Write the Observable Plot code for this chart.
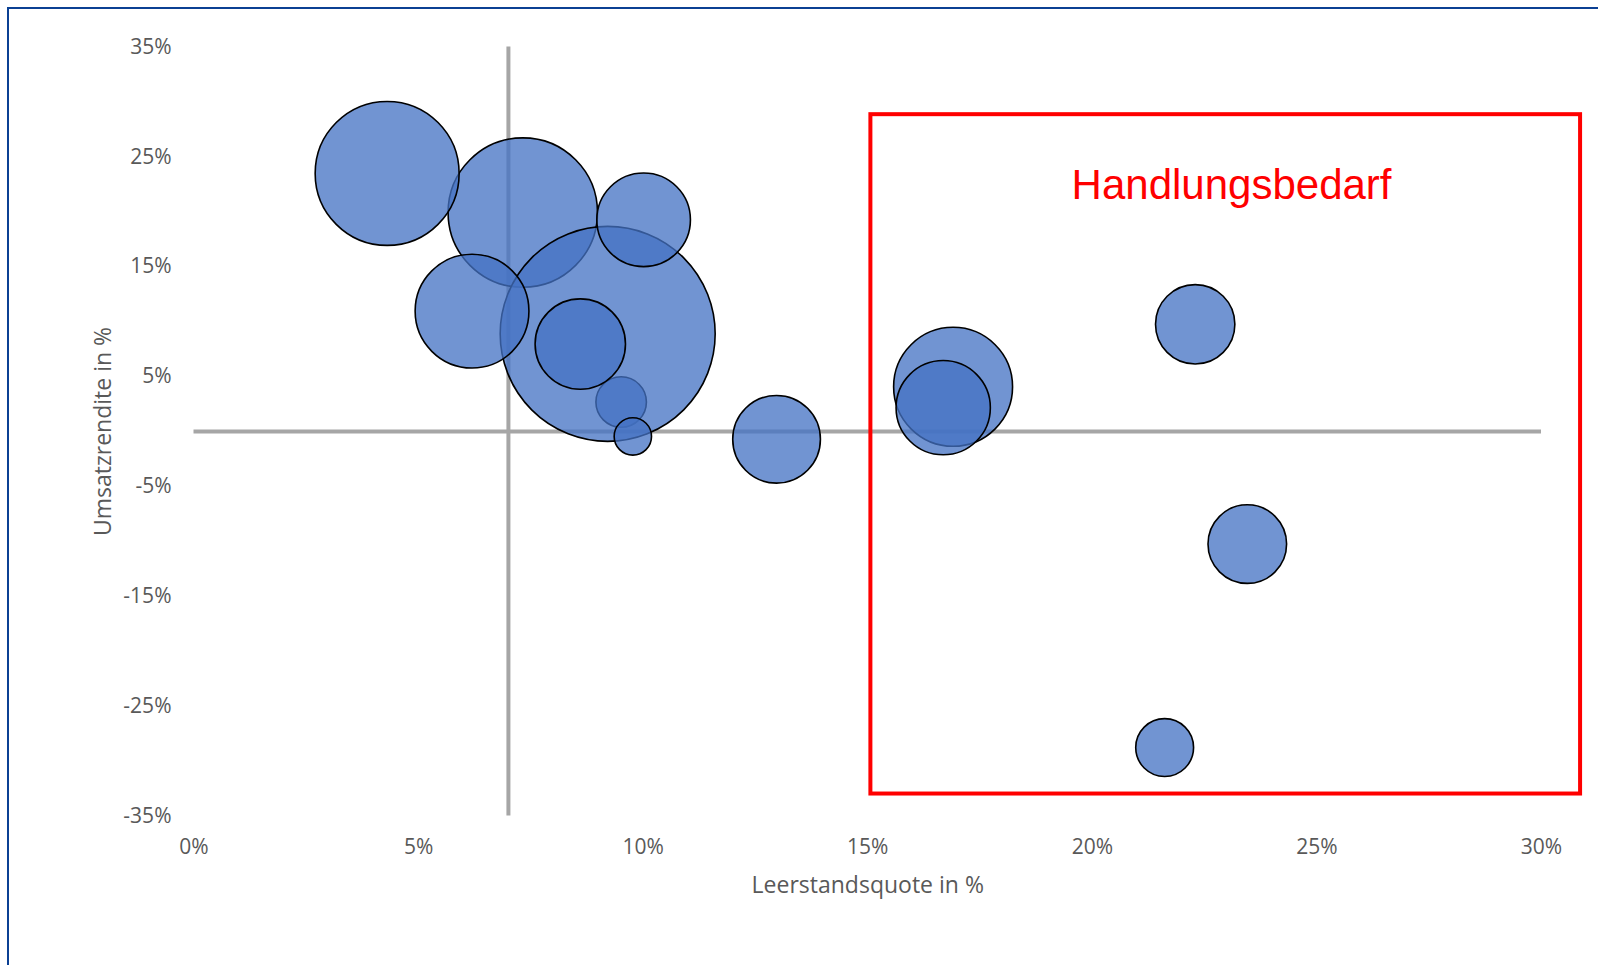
<!DOCTYPE html>
<html>
<head>
<meta charset="utf-8">
<script src="https://cdn.jsdelivr.net/npm/d3@7"></script>
<script src="https://cdn.jsdelivr.net/npm/@observablehq/plot@0.6"></script>
<style>
  html, body { margin: 0; padding: 0; background: #fff; }
  #wrap { position: relative; width: 1598px; height: 965px; overflow: hidden; }
  #frame { position: absolute; left: 7px; top: 7px; width: 1700px; height: 1100px;
           border-left: 2px solid #0b4093; border-top: 2px solid #0b4093; pointer-events: none; }
</style>
</head>
<body>
<div id="wrap"><div id="frame"></div></div>
<script>
// Bubbles in drawing order (later ones are painted on top)
const leerstand   = [7.32, 9.51, 9.21, 4.30, 10.01, 6.19, 8.60, 9.77, 12.97, 16.90, 16.68, 22.29, 23.45, 21.61];
const rendite     = [19.93, 2.68, 8.89, 23.49, 19.27, 10.96, 7.96, -0.45, -0.71, 4.07, 2.17, 9.76, -10.25, -28.77];
const groesse     = [56.0, 6.4, 116.0, 52.0, 22.0, 32.5, 20.5, 3.5, 19.3, 35.5, 22.3, 15.8, 15.5, 8.4];

const xTicks = [0, 5, 10, 15, 20, 25, 30];
const yTicks = [-35, -25, -15, -5, 5, 15, 25, 35];

// reference cross lines (Leerstand 7 %, Rendite 0 %)
const crossX = 7;
const crossY = 0;

// highlighted zone
const zone = [{x1: 15.07, x2: 30.87, y1: -33.0, y2: 28.84}];
const zoneLabel = [{x: 23.1, y: 21.2, text: "Handlungsbedarf"}];

const bubbles = leerstand.map((x, i) => ({x, y: rendite[i], s: groesse[i]}));

const chart = Plot.plot({
  width: 1598,
  height: 965,
  marginLeft: 193.5,
  marginRight: 57,
  marginTop: 46.5,
  marginBottom: 149.5,
  style: {fontFamily: "'Open Sans', sans-serif", fontSize: "21px", color: "#595959", background: "transparent"},
  x: {domain: [0, 30]},
  y: {domain: [-35, 35]},
  r: {type: "sqrt", domain: [0, 116], range: [0, 107.5]},
  marks: [
    Plot.axisX({ticks: xTicks, tickSize: 0, tickPadding: 23.5, tickFormat: d => d + "%", label: null, fontSize: 21}),
    Plot.axisY({ticks: yTicks, tickSize: 0, tickPadding: 22.5, tickFormat: d => d + "%", label: null, fontSize: 21}),
    Plot.ruleY([crossY], {x1: 0, x2: 30, stroke: "#a6a6a6", strokeWidth: 4}),
    Plot.ruleX([crossX], {y1: -35, y2: 35, stroke: "#a6a6a6", strokeWidth: 4}),
    Plot.rect(zone, {x1: "x1", x2: "x2", y1: "y1", y2: "y2", fill: "none", stroke: "#ff0000", strokeWidth: 4}),
    Plot.dot(bubbles, {x: "x", y: "y", r: "s", sort: null, fill: "#4472c4", fillOpacity: 0.76, stroke: "#000", strokeWidth: 1.6}),
    Plot.text(zoneLabel, {x: "x", y: "y", text: "text", fill: "#ff0000", fontSize: 42, fontFamily: "'Liberation Sans', Arial, sans-serif", lineAnchor: "bottom", textAnchor: "middle"}),
    Plot.text(["Leerstandsquote in %"], {frameAnchor: "bottom", lineAnchor: "bottom", textAnchor: "middle", dy: 77, fontSize: 23, fill: "#595959"}),
    Plot.text(["Umsatzrendite in %"], {frameAnchor: "left", lineAnchor: "bottom", textAnchor: "middle", rotate: -90, dx: -83.5, fontSize: 23, fill: "#595959"})
  ]
});
document.getElementById("wrap").insertBefore(chart, document.getElementById("frame"));
</script>
</body>
</html>
